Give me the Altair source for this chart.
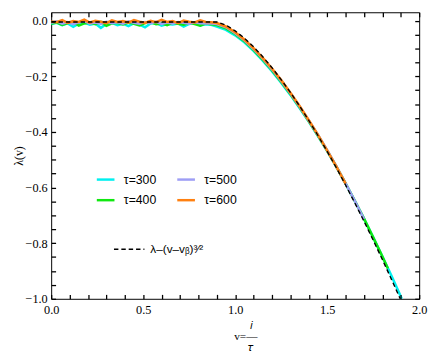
import altair as alt
import pandas as pd

# ---------------- data ----------------
v_flat = [0.00, 0.03, 0.06, 0.09, 0.12, 0.15, 0.18, 0.21, 0.24, 0.27,
          0.30, 0.33, 0.36, 0.39, 0.42, 0.45, 0.48, 0.51, 0.54, 0.57,
          0.60, 0.63, 0.66, 0.69, 0.72, 0.75, 0.78, 0.81, 0.84, 0.87]

v300_knee = [0.90, 0.95, 1.00, 1.05, 1.10, 1.15, 1.20, 1.25, 1.30, 1.35, 1.40,
             1.45, 1.50, 1.55, 1.60, 1.65, 1.70, 1.75, 1.80, 1.85, 1.90, 1.905]
y300_flat = [-0.012, -0.008, -0.016, -0.010, -0.022, -0.011, -0.007, -0.015, -0.010, -0.026,
             -0.012, -0.008, -0.016, -0.011, -0.020, -0.009, -0.014, -0.024, -0.010, -0.008,
             -0.018, -0.012, -0.014, -0.010, -0.021, -0.012, -0.008, -0.017, -0.013, -0.015]
y300_knee = [-0.021, -0.033, -0.053, -0.078, -0.109, -0.144, -0.182, -0.223, -0.267, -0.314, -0.363,
             -0.415, -0.469, -0.526, -0.586, -0.648, -0.712, -0.779, -0.848, -0.918, -0.992, -1.000]

v400_knee = [0.90, 0.95, 1.00, 1.05, 1.10, 1.15, 1.20, 1.25, 1.30, 1.35, 1.40,
             1.45, 1.50, 1.55, 1.60, 1.65, 1.70, 1.75, 1.80, 1.83]
y400_flat = [-0.011, -0.006, -0.015, -0.009, -0.005, -0.018, -0.010, -0.007, -0.013, -0.005,
             -0.019, -0.010, -0.008, -0.014, -0.006, -0.011, -0.017, -0.009, -0.005, -0.013,
             -0.010, -0.016, -0.007, -0.011, -0.015, -0.008, -0.012, -0.018, -0.010, -0.013]
y400_knee = [-0.016, -0.028, -0.048, -0.074, -0.105, -0.140, -0.178, -0.220, -0.264, -0.311, -0.361,
             -0.413, -0.467, -0.525, -0.585, -0.648, -0.712, -0.779, -0.848, -0.891]

v500_knee = [0.90, 0.95, 1.00, 1.05, 1.10, 1.15, 1.20, 1.25, 1.30, 1.35, 1.40,
             1.45, 1.50, 1.55, 1.60, 1.65, 1.70]
y500_flat = [-0.008, -0.003, -0.011, -0.005, -0.013, -0.006, -0.002, -0.010, -0.007, -0.012,
             -0.004, -0.009, -0.006, -0.011, -0.003, -0.008, -0.011, -0.005, -0.009, -0.004,
             -0.012, -0.007, -0.010, -0.005, -0.008, -0.011, -0.006, -0.009, -0.010, -0.010]
y500_knee = [-0.012, -0.024, -0.045, -0.071, -0.102, -0.137, -0.175, -0.217, -0.261, -0.309, -0.359,
             -0.411, -0.466, -0.524, -0.585, -0.648, -0.713]

v600_knee = [0.90, 0.95, 1.00, 1.05, 1.10, 1.15, 1.20, 1.25, 1.30, 1.35, 1.40,
             1.45, 1.50, 1.55, 1.60]
y600_flat = [-0.003, -0.006, 0.002, -0.008, -0.002, -0.005, 0.003, -0.007, -0.001, -0.004,
             -0.009, 0.001, -0.005, -0.002, -0.007, 0.002, -0.004, -0.008, -0.001, -0.006,
             0.003, -0.005, -0.002, -0.009, 0.000, -0.004, -0.007, 0.001, -0.005, -0.006]
y600_knee = [-0.009, -0.021, -0.042, -0.068, -0.099, -0.134, -0.172, -0.214, -0.259, -0.307, -0.358,
             -0.411, -0.467, -0.525, -0.586]

v_theory = [0.00, 0.90, 0.95, 1.00, 1.05, 1.10, 1.15, 1.20, 1.25, 1.30, 1.35, 1.40,
            1.45, 1.50, 1.55, 1.60, 1.65, 1.70, 1.75, 1.80, 1.85, 1.897]
y_theory = [-0.005, -0.005, -0.016, -0.037, -0.063, -0.094, -0.130, -0.169, -0.212, -0.258, -0.307,
            -0.359, -0.413, -0.470, -0.529, -0.591, -0.655, -0.721, -0.789, -0.859, -0.931, -1.000]

legend_order = ["τ=300", "τ=400", "τ=500", "τ=600"]
legend_colors = ["#00F0F0", "#10E810", "#9E9EF5", "#FF8010"]
theory_label = "λ–(v–vᵦ)³⁄²"

x_ticks = [0.0, 0.1, 0.2, 0.3, 0.4, 0.5, 0.6, 0.7, 0.8, 0.9, 1.0,
           1.1, 1.2, 1.3, 1.4, 1.5, 1.6, 1.7, 1.8, 1.9, 2.0]
y_ticks = [0.0, -0.05, -0.1, -0.15, -0.2, -0.25, -0.3, -0.35, -0.4, -0.45, -0.5,
           -0.55, -0.6, -0.65, -0.7, -0.75, -0.8, -0.85, -0.9, -0.95, -1.0]

# ---------------- tables ----------------
rows = []
for name, vs, ys in [
    ("τ=300", v_flat + v300_knee, y300_flat + y300_knee),
    ("τ=400", v_flat + v400_knee, y400_flat + y400_knee),
    ("τ=500", v_flat + v500_knee, y500_flat + y500_knee),
    ("τ=600", v_flat + v600_knee, y600_flat + y600_knee),
]:
    for a, b in zip(vs, ys):
        rows.append({"v": a, "lam": b, "tau": name})
df = pd.DataFrame(rows)
df_th = pd.DataFrame({"v": v_theory, "lam": y_theory, "curve": [theory_label] * len(v_theory)})

xs = alt.Scale(domain=[0, 2], nice=False, zero=False)
ys_ = alt.Scale(domain=[-1, 0.03], nice=False, zero=False)

x_label_expr = "abs(datum.value * 2 - round(datum.value * 2)) < 0.001 ? format(datum.value, '.1f') : ''"
y_label_expr = "abs(datum.value * 5 - round(datum.value * 5)) < 0.001 ? format(datum.value, '.1f') : ''"


def ax_offset(orient, values, size, **kw):
    # ticks pointing into the plot: axis moved inward by its own tick length
    base = dict(orient=orient, values=values, tickSize=size, offset=-size, domain=False,
                grid=False, labelFlush=False, ticks=True, tickColor="#000000", tickWidth=1.3,
                tickOpacity=1, zindex=2)
    base.update(kw)
    base.setdefault("title", None)
    base.setdefault("labels", False)
    return alt.Axis(**base)


def ax_inward(orient, values, size):
    # ticks pointing into the plot through a negative tick length given as an expression
    return alt.Axis(orient=orient, values=values, tickSize={"expr": str(-size)}, offset=0,
                    domain=False, grid=False, labels=False, title=None, ticks=True,
                    tickColor="#000000", tickWidth=1.3, tickOpacity=1, zindex=2)


x_title = ["\u200b\u2002\u2002\u2009\u2009𝑖", "v=\u2014", "\u200b\u2002\u2002\u2009𝜏"]

main = alt.Chart(df).mark_line(strokeWidth=2.6).encode(
    x=alt.X("v:Q", scale=xs,
            axis=ax_offset("bottom", x_ticks, 4.5, labels=True, labelExpr=x_label_expr,
                           labelPadding=5, title=x_title, titleAlign="left", titleX=186,
                           titleLineHeight=11, titlePadding=4, titleFontSize=11.5)),
    y=alt.Y("lam:Q", scale=ys_,
            axis=ax_offset("left", y_ticks, 4.5, labels=True, labelExpr=y_label_expr,
                           labelPadding=4, title="λ(v)", titlePadding=0, titleFontSize=12)),
    color=alt.Color("tau:N", sort=legend_order,
                    scale=alt.Scale(domain=legend_order, range=legend_colors),
                    legend=alt.Legend(title=None, orient="none", legendX=45, legendY=160,
                                      columns=2, symbolType="stroke", symbolSize=324,
                                      symbolStrokeWidth=2.5, labelOffset=8, columnPadding=15,
                                      rowPadding=4, labelFontSize=12.5)),
)

dash = alt.Chart(df_th).mark_line(color="black", strokeWidth=1.4).encode(
    x=alt.X("v:Q", scale=xs, axis=ax_inward("top", x_ticks, 4.5)),
    y=alt.Y("lam:Q", scale=ys_, axis=ax_inward("right", y_ticks, 4.5)),
    strokeDash=alt.StrokeDash("curve:N", scale=alt.Scale(domain=[theory_label], range=[[4.5, 3]]),
                              legend=alt.Legend(title=None, orient="none", legendX=63, legendY=225,
                                                symbolType="stroke", symbolSize=961,
                                                symbolStrokeColor="black", symbolStrokeWidth=1.4,
                                                labelOffset=5, labelFontSize=12)),
)

chart = alt.layer(main, dash).resolve_axis(
    x="independent", y="independent"
).properties(
    width=375, height=292,
    autosize=alt.AutoSizeParams(type="none"),
    padding={"left": 44, "top": 1, "right": 9, "bottom": 58},
).configure_axis(
    labelFont="Liberation Serif", labelFontSize=12.5, labelColor="black",
    titleFont="Liberation Serif", titleFontWeight="normal", titleColor="black",
).configure_legend(
    labelFont="Liberation Sans", labelColor="black", padding=0,
).configure_view(stroke="black", strokeWidth=1)

chart.save("out.html", embed_options={"renderer": "svg", "actions": False})
